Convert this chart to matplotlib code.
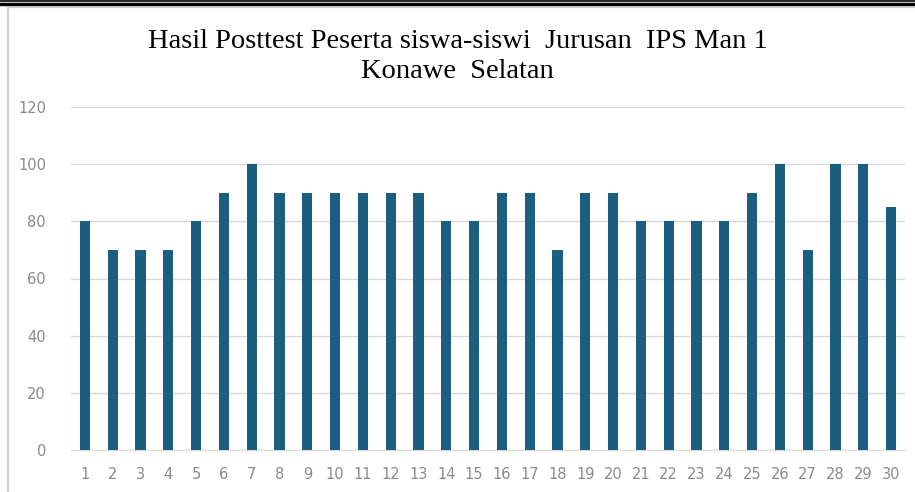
import matplotlib.pyplot as plt
from matplotlib.lines import Line2D

students = [str(i) for i in range(1, 31)]
scores = [80, 70, 70, 70, 80, 90, 100, 90, 90, 90,
          90, 90, 90, 80, 80, 90, 90, 70, 90, 90,
          80, 80, 80, 80, 90, 100, 70, 100, 100, 85]
y_ticks = [0, 20, 40, 60, 80, 100, 120]

fig = plt.figure(figsize=(9.15, 4.92), dpi=100)
ax = fig.add_axes([71 / 915, 1 - 450 / 492, (905 - 71) / 915, (450 - 107) / 492])

x = list(range(len(students)))
ax.bar(x, scores, width=0.36, color='#1a5f80', zorder=3)

ax.set_xlim(-0.5, len(students) - 0.5)
ax.set_ylim(0, 120)
ax.set_yticks(y_ticks)
ax.set_xticks(x)
ax.set_xticklabels(students)
ax.yaxis.grid(True, color='#d9d9d9', linewidth=1, zorder=0)
for s in ['top', 'right', 'left']:
    ax.spines[s].set_visible(False)
ax.spines['bottom'].set_color('#d9d9d9')
ax.tick_params(axis='both', length=0, labelcolor='#8a8a8a', labelsize=10.5)
ax.tick_params(axis='x', pad=12)
ax.tick_params(axis='y', pad=18)

fig.text(0.5, 1 - 42 / 492, 'Hasil Posttest Peserta siswa-siswi  Jurusan  IPS Man 1',
         ha='center', va='center', family='Liberation Serif', fontsize=20.5)
fig.text(0.5, 1 - 72 / 492, 'Konawe  Selatan',
         ha='center', va='center', family='Liberation Serif', fontsize=20.5)

# frame lines around the pasted chart
fig.add_artist(Line2D([0, 1], [1 - 0.5 / 492, 1 - 0.5 / 492], color='black', linewidth=1.2))
fig.add_artist(Line2D([0, 1], [1 - 4 / 492, 1 - 4 / 492], color='black', linewidth=2.5))
fig.add_artist(Line2D([8 / 915, 1], [1 - 7 / 492, 1 - 7 / 492], color='#d0d0d0', linewidth=1))
fig.add_artist(Line2D([8 / 915, 8 / 915], [0, 1 - 7 / 492], color='#d0d0d0', linewidth=1.5))

fig.savefig('out.png', dpi=100)
